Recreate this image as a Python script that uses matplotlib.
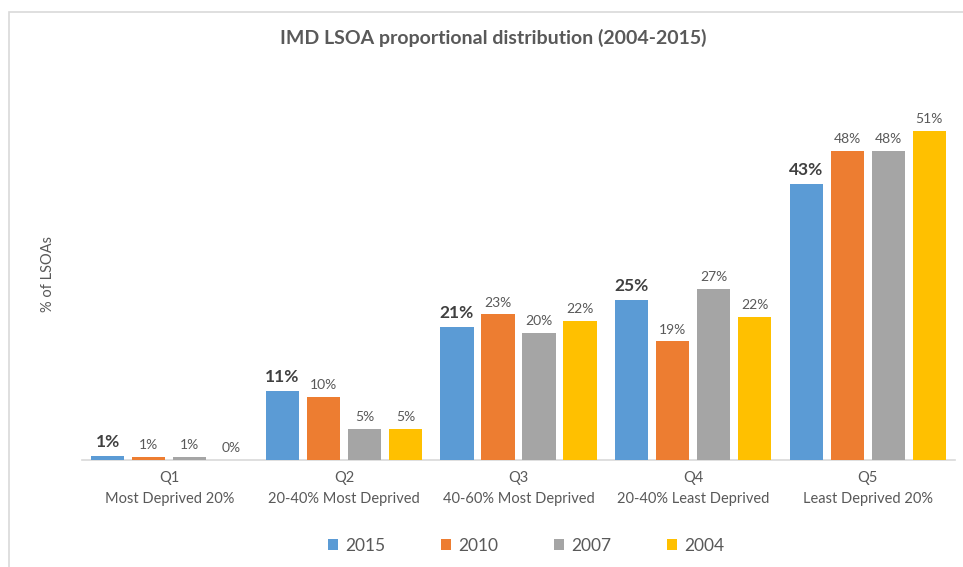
import matplotlib
matplotlib.use("Agg")
import matplotlib.pyplot as plt
from matplotlib.patches import Rectangle
import numpy as np

categories = ["Q1\nMost Deprived 20%", "Q2\n20-40% Most Deprived", "Q3\n40-60% Most Deprived",
              "Q4\n20-40% Least Deprived", "Q5\nLeast Deprived 20%"]
series_names = ["2015", "2010", "2007", "2004"]
v2015 = [0.6, 10.7, 20.6, 24.8, 42.8]
v2010 = [0.5, 9.8, 22.6, 18.4, 47.9]
v2007 = [0.5, 4.8, 19.7, 26.6, 47.9]
v2004 = [0.0, 4.8, 21.6, 22.2, 51.0]
labels2015 = ["1%", "11%", "21%", "25%", "43%"]
labels2010 = ["1%", "10%", "23%", "19%", "48%"]
labels2007 = ["1%", "5%", "20%", "27%", "48%"]
labels2004 = ["0%", "5%", "22%", "22%", "51%"]
colors = ["#5B9BD5", "#ED7D31", "#A5A5A5", "#FFC000"]

plt.rcParams['font.family'] = ['Lato', 'DejaVu Sans']

W, H = 963, 567
fig = plt.figure(figsize=(W/100, H/100), dpi=100)
fig.patch.set_facecolor("white")

# outer chart frame
fig.add_artist(Rectangle((9/W, -0.1), 1.2, (H-12)/H + 0.1, transform=fig.transFigure,
                         fill=False, edgecolor="#D9D9D9", linewidth=1.2))

ax = fig.add_axes([82/W, (H-460)/H, (955-82)/W, (460-90)/H])
x = np.arange(len(categories))
width = 0.19
step = 0.235
all_vals = [v2015, v2010, v2007, v2004]
all_labels = [labels2015, labels2010, labels2007, labels2004]
for i, (vals, labs, c, name) in enumerate(zip(all_vals, all_labels, colors, series_names)):
    pos = x + (i - 1.5) * step
    ax.bar(pos, vals, width, color=c, label=name, zorder=3)
    for p, v, lab in zip(pos, vals, labs):
        if i == 0:
            ax.text(p, v + 0.9, lab, ha="center", va="bottom", fontsize=12.5,
                    fontweight="bold", color="#404040")
        else:
            ax.text(p, v + 0.9, lab, ha="center", va="bottom", fontsize=10,
                    color="#595959")

ax.set_xlim(-0.5, 4.5)
ax.set_ylim(0, 57.4)
ax.set_xticks(x)
ax.set_xticklabels(categories, fontsize=10.5, color="#595959", linespacing=1.6)
ax.tick_params(axis="x", length=0, pad=8)
ax.set_yticks([])
for s in ["top", "right", "left"]:
    ax.spines[s].set_visible(False)
ax.spines["bottom"].set_color("#D9D9D9")
ax.spines["bottom"].set_linewidth(1.2)

fig.text(48/W, 1 - 274/H, "% of LSOAs", rotation=90, ha="center", va="center",
         fontsize=10.5, color="#595959")
fig.text(493/W, 1 - 38/H, "IMD LSOA proportional distribution (2004-2015)", ha="center",
         va="center", fontsize=14, fontweight="bold", color="#595959")

leg = fig.legend(loc="center", bbox_to_anchor=(526/W, 1 - 546/H), ncol=4, frameon=False,
                 fontsize=12.5, handlelength=0.6, handleheight=0.6, columnspacing=3.2,
                 handletextpad=0.4, labelcolor="#595959")

fig.savefig("out.png", dpi=100, facecolor="white")
